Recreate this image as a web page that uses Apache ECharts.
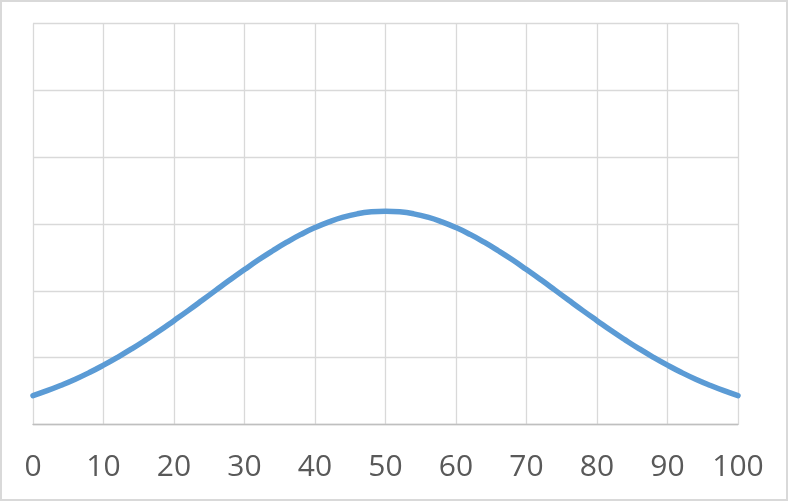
<!DOCTYPE html>
<html>
<head>
<meta charset="utf-8">
<script src="https://cdn.jsdelivr.net/npm/echarts@6/dist/echarts.min.js"></script>
<style>
html,body{margin:0;padding:0;background:#fff;}
#wrap{width:788px;height:501px;box-sizing:border-box;border:2px solid #d9d9d9;position:relative;}
#chart{position:absolute;left:-2px;top:-2px;width:788px;height:501px;}
</style>
</head>
<body>
<div id="wrap"><div id="chart"></div></div>
<script>
var xValues = [0,2,4,6,8,10,12,14,16,18,20,22,24,26,28,30,32,34,36,38,40,42,44,46,48,50,52,54,56,58,60,62,64,66,68,70,72,74,76,78,80,82,84,86,88,90,92,94,96,98,100];
var yValues = [0.00216,0.00253,0.00294,0.00339,0.00389,0.00444,0.00503,0.00566,0.00633,0.00703,0.00777,0.00852,0.00929,0.01007,0.01084,0.01159,0.01232,0.01300,0.01364,0.01422,0.01473,0.01516,0.01551,0.01576,0.01591,0.01596,0.01591,0.01576,0.01551,0.01516,0.01473,0.01422,0.01364,0.01300,0.01232,0.01159,0.01084,0.01007,0.00929,0.00852,0.00777,0.00703,0.00633,0.00566,0.00503,0.00444,0.00389,0.00339,0.00294,0.00253,0.00216];
var xTicks = {min:0, max:100, interval:10};
var yTicks = {min:0, max:0.03, interval:0.005};

var data = xValues.map(function(x,i){return [x, yValues[i]];});
var chart = echarts.init(document.getElementById('chart'));
chart.setOption({
  animation:false,
  grid:{left:33, right:50, top:23.5, bottom:76.5, containLabel:false},
  xAxis:{
    type:'value', min:xTicks.min, max:xTicks.max, interval:xTicks.interval,
    axisLine:{show:true, lineStyle:{color:'#bfbfbf', width:1.3}},
    axisTick:{show:false},
    axisLabel:{color:'#595959', fontSize:30, fontFamily:'Open Sans', margin:28},
    splitLine:{show:true, lineStyle:{color:'#d9d9d9', width:1.3}}
  },
  yAxis:{
    type:'value', min:yTicks.min, max:yTicks.max, interval:yTicks.interval,
    axisLine:{show:false}, axisTick:{show:false}, axisLabel:{show:false},
    splitLine:{show:true, lineStyle:{color:'#d9d9d9', width:1.3}}
  },
  series:[{
    type:'line', data:data, smooth:true, showSymbol:false,
    lineStyle:{color:'#5b9bd5', width:5.5, cap:'round'},
    itemStyle:{color:'#5b9bd5'}
  }]
});
</script>
</body>
</html>
